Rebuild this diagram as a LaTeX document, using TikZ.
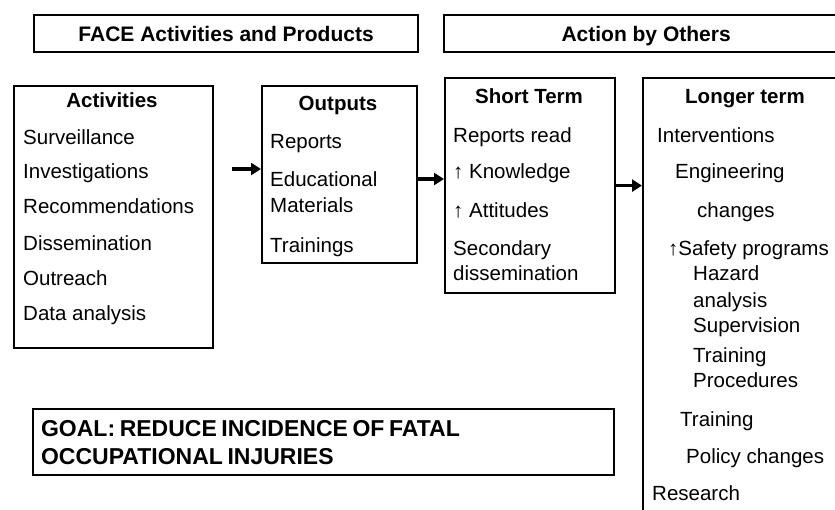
\documentclass[tikz,border=0pt]{standalone}
\usepackage{fontspec}
\setmainfont{Liberation Sans}
\usetikzlibrary{arrows.meta}

\begin{document}
\begin{tikzpicture}[x=1pt, y=-1pt,
  box/.style={draw, line width=2.2pt, anchor=north west, inner sep=0pt},
  headbox/.style={box, text height=15pt, text depth=0pt, font=\fontsize{21}{24}\selectfont\bfseries},
  item/.style={anchor=base west, inner sep=0pt, font=\fontsize{20.5}{24}\selectfont},
  title/.style={anchor=base, inner sep=0pt, font=\fontsize{20.5}{24}\selectfont\bfseries},
  flow/.style={line width=3.4pt, -{Triangle[length=10pt, width=12pt]}}]
\clip (0,0) rectangle (835,509);

% header boxes
\node[headbox, minimum width=384, minimum height=37] (facehd) at (33,14) {FACE Activities and Products};
\node[headbox, minimum width=404, minimum height=37] (otherhd) at (443,14) {Action by Others};

% the four columns
\node[box, minimum width=199, minimum height=262] (activities) at (13,85) {};
\node[box, minimum width=155, minimum height=177] (outputs) at (261,85) {};
\node[box, minimum width=170, minimum height=215] (short) at (444,77) {};
\node[box, minimum width=206, minimum height=460] (longer) at (642,77) {};

\node[title] (acttitle) at (112,107) {Activities};
\node[title] (outtitle) at (338,110) {Outputs};
\node[title] (shorttitle) at (529,103) {Short Term};
\node[title] (longtitle) at (745,103) {Longer term};

\foreach \txt/\yy [count=\i] in {Surveillance/144, Investigations/178, Recommendations/213, Dissemination/250, Outreach/285, Data analysis/320}
  \node[item] (act\i) at (23,\yy) {\txt};

\foreach \txt/\yy [count=\i] in {Reports/148, Educational/186, Materials/212, Trainings/252}
  \node[item] (out\i) at (270,\yy) {\txt};

\foreach \txt/\yy [count=\i] in {Reports read/142, ↑ Knowledge/178, ↑ Attitudes/217, Secondary/255, dissemination/280}
  \node[item] (st\i) at (453,\yy) {\txt};

\foreach \xx/\yy/\txt [count=\i] in {657/142/Interventions, 675/178/Engineering, 697/217/changes, 668/255/↑Safety programs,
  693/280/Hazard, 693/307/analysis, 693/332/Supervision, 693/362/Training, 693/387/Procedures,
  680/426/Training, 686/463/Policy changes, 652/500/Research}
  \node[item] (lt\i) at (\xx,\yy) {\txt};

% goal
\node[box, text width=565, minimum height=66, inner sep=8pt, align=left,
  font=\fontsize{23}{28}\selectfont\bfseries] (goal) at (32,408)
  {\spaceskip=0.2em GOAL: REDUCE INCIDENCE OF FATAL\\OCCUPATIONAL INJURIES};

% arrows
\coordinate (a1) at (232,169);
\coordinate (a2) at (0,179);
\draw[flow] (a1) -- (a1 -| outputs.west);
\draw[flow] (outputs.east |- a2) -- (short.west |- a2);
\draw[flow] (short.east) -- (longer.west |- short.east);
\end{tikzpicture}
\end{document}
